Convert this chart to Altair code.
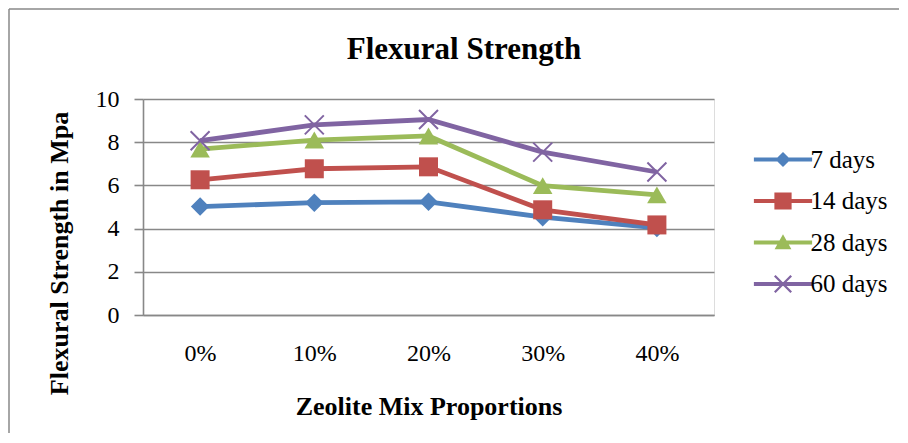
import altair as alt
import pandas as pd

categories = ["0%", "10%", "20%", "30%", "40%"]
series_names = ["7 days", "14 days", "28 days", "60 days"]
days7 = [5.02, 5.20, 5.24, 4.53, 4.03]
days14 = [6.26, 6.77, 6.86, 4.87, 4.17]
days28 = [7.68, 8.10, 8.29, 5.99, 5.56]
days60 = [8.07, 8.80, 9.05, 7.54, 6.62]
colors = ["#4F81BD", "#C0504D", "#9BBB59", "#8064A2"]

rows = []
for s, vals in zip(series_names, [days7, days14, days28, days60]):
    for c, v in zip(categories, vals):
        rows.append({"pct": c, "series": s, "value": v})
df = pd.DataFrame(rows)
frame_df = pd.DataFrame({"k": [0]})

FONT = "Liberation Serif"
GRAY = "#888888"
W, H = 571, 216

# plot markers
X_PATH = ("M-0.88,-1.02L1.02,0.88L0.88,1.02L-1.02,-0.88Z"
          "M-0.88,1.02L-1.02,0.88L0.88,-1.02L1.02,-0.88Z")
point_shapes = ["diamond", "square", "triangle-up", X_PATH]
point_sizes = [342, 400, 484, 400]

# legend symbols: line + marker, all filled
LINE = "M-1.42,-0.1L1.42,-0.1L1.42,0.1L-1.42,0.1Z"
legend_shapes = [
    LINE + "M0,-0.37L0.37,0L0,0.37L-0.37,0Z",
    LINE + "M-0.42,-0.42L0.42,-0.42L0.42,0.42L-0.42,0.42Z",
    LINE + "M0,-0.4L0.41,0.33L-0.41,0.33Z",
    LINE + "M-0.361,-0.439L0.439,0.361L0.361,0.439L-0.439,-0.361Z"
           "M-0.361,0.439L-0.439,0.361L0.361,-0.439L0.439,-0.361Z",
]

color_scale = alt.Scale(domain=series_names, range=colors)
x_enc = alt.X(
    "pct:N",
    sort=categories,
    axis=alt.Axis(
        title="Zeolite Mix Proportions",
        titleFont=FONT, titleFontSize=26, titleFontWeight="bold", titleColor="black",
        titleBaseline="alphabetic", titleY=99,
        labelFont=FONT, labelFontSize=24, labelColor="black", labelAngle=0,
        labelPadding=26, ticks=False, grid=False,
        domainColor=GRAY, domainWidth=1.6,
    ),
)
y_enc = alt.Y(
    "value:Q",
    scale=alt.Scale(domain=[0, 10]),
    axis=alt.Axis(
        values=[0, 2, 4, 6, 8, 10],
        title="Flexural Strength in Mpa",
        titleFont=FONT, titleFontSize=26, titleFontWeight="bold", titleColor="black",
        titleAngle=270, titleAlign="center", titleBaseline="alphabetic",
        titleX=-76, titleY=154,
        labelFont=FONT, labelFontSize=24, labelColor="black", labelPadding=15,
        tickSize=9, tickColor=GRAY, tickWidth=1.6,
        domainColor=GRAY, domainWidth=1.6,
        grid=True, gridColor=GRAY, gridWidth=1.6,
    ),
)

frame_left = alt.Chart(frame_df).mark_rule(color=GRAY, strokeWidth=1.5).encode(
    x=alt.value(-134), y=alt.value(-90), y2=alt.value(334)
)
frame_top = alt.Chart(frame_df).mark_rule(color=GRAY, strokeWidth=1.5).encode(
    x=alt.value(-134), x2=alt.value(756), y=alt.value(-90)
)

lines = alt.Chart(df).mark_line(strokeWidth=4.8).encode(
    x=x_enc,
    y=y_enc,
    color=alt.Color("series:N", scale=color_scale, legend=None),
)

points = alt.Chart(df).mark_point(filled=True, opacity=1).encode(
    x=x_enc,
    y=y_enc,
    color=alt.Color("series:N", scale=color_scale, legend=None),
    shape=alt.Shape("series:N", scale=alt.Scale(domain=series_names, range=point_shapes), legend=None),
    size=alt.Size("series:N", scale=alt.Scale(domain=series_names, range=point_sizes), legend=None),
)

legend_def = alt.Legend(
    orient="none", legendX=619.5, legendY=40, title=None,
    symbolSize=1681, symbolStrokeWidth=0, symbolOpacity=1, padding=0, rowPadding=7.5,
    labelFont=FONT, labelFontSize=25, labelColor="black", labelOffset=7,
)
legend_layer = alt.Chart(df).mark_point(filled=True, size=0).encode(
    x=x_enc,
    y=y_enc,
    color=alt.Color("series:N", scale=color_scale, legend=legend_def),
    shape=alt.Shape("series:N", scale=alt.Scale(domain=series_names, range=legend_shapes), legend=legend_def),
)

chart = alt.layer(frame_left, frame_top, lines, points, legend_layer).resolve_scale(
    color="independent", shape="independent"
).properties(
    width=W,
    height=H,
    padding=0,
    title=alt.Title(
        "Flexural Strength",
        font=FONT, fontSize=31, fontWeight="bold", color="black",
        anchor="middle", frame="group", baseline="alphabetic",
        offset=0, dy=81.75, dx=35.5,
    ),
).configure_view(stroke=None).configure(background="white")

chart.save("out.html", embed_options={"renderer": "svg", "actions": False})
